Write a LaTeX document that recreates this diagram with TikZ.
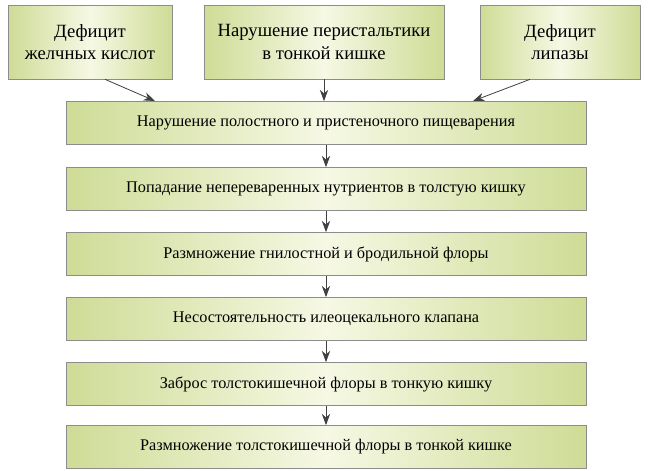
\documentclass[tikz,border=0pt]{standalone}
\usepackage{fontspec}
\setmainfont{Liberation Serif}
\usetikzlibrary{arrows.meta}
\definecolor{boxedge}{RGB}{206,220,150}
\definecolor{boxmid}{RGB}{246,248,228}

\tikzset{
  box/.style={draw=black!45, line width=0.5pt, left color=boxedge, right color=boxedge,
    middle color=boxmid, font=\fontsize{12.2}{14}\selectfont, align=center, inner sep=0pt},
  topbox/.style={box, font=\fontsize{14}{17}\selectfont, minimum height=74*0.75pt},
  arr/.style={-{Stealth[length=3mm,width=2.2mm]}, black!75, line width=0.6pt}
}

\begin{document}
\begin{tikzpicture}[x=0.75pt,y=-0.75pt]
	\useasboundingbox (0,0) rectangle (650,471);
	% top row
	\node[topbox, minimum width=164*0.75pt] (jk) at (90,42) {Дефицит\\желчных кислот};
	\node[topbox, minimum width=240*0.75pt] (per) at (324,42) {Нарушение перистальтики\\в тонкой кишке};
	\node[topbox, minimum width=160*0.75pt] (lip) at (560,42) {Дефицит\\липазы};
	% chain
	\foreach \name/\y/\txt in {
	    s1/123/Нарушение полостного и пристеночного пищеварения,
	    s2/189/Попадание непереваренных нутриентов в толстую кишку,
	    s3/254/Размножение гнилостной и бродильной флоры,
	    s4/319/Несостоятельность илеоцекального клапана,
	    s5/384/Заброс толстокишечной флоры в тонкую кишку,
	    s6/447/Размножение толстокишечной флоры в тонкой кишке}
	  \node[box, minimum width=520*0.75pt, minimum height=43*0.75pt] (\name) at (326,\y) {\txt};
	\coordinate (inl) at (155,101);
	\coordinate (inr) at (473,101);
	\draw[arr] ([xshift=15*0.75pt]jk.south) -- (inl);
	\draw[arr] (per.south) -- (s1.north -| per.south);
	\draw[arr] ([xshift=-30*0.75pt]lip.south) -- (inr);
	\foreach \a/\b in {s1/s2,s2/s3,s3/s4,s4/s5,s5/s6}
	  \draw[arr] (\a.south) -- (\b.north);
\end{tikzpicture}
\end{document}
